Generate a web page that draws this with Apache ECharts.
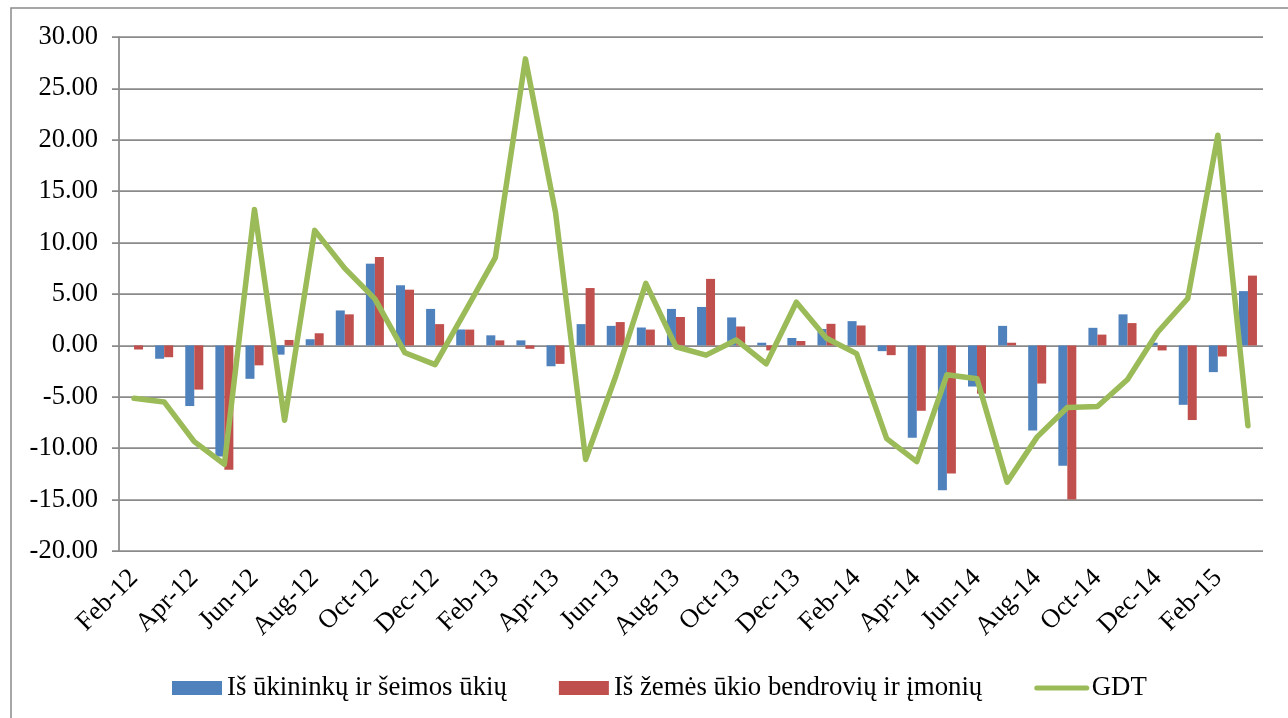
<!DOCTYPE html>
<html>
<head>
<meta charset="utf-8">
<script src="https://cdn.jsdelivr.net/npm/echarts@6/dist/echarts.min.js"></script>
<style>
html,body{margin:0;padding:0;background:#fff;}
#chart{width:1288px;height:718px;}
</style>
</head>
<body>
<div id="chart"></div>
<script>
const categories = ['Feb-12','Mar-12','Apr-12','May-12','Jun-12','Jul-12','Aug-12','Sep-12','Oct-12','Nov-12','Dec-12',
  'Jan-13','Feb-13','Mar-13','Apr-13','May-13','Jun-13','Jul-13','Aug-13','Sep-13','Oct-13','Nov-13','Dec-13',
  'Jan-14','Feb-14','Mar-14','Apr-14','May-14','Jun-14','Jul-14','Aug-14','Sep-14','Oct-14','Nov-14','Dec-14',
  'Jan-15','Feb-15','Mar-15'];
const farmers = [0, -1.3, -5.9, -10.8, -3.25, -0.9, 0.6, 3.4, 7.95, 5.85, 3.55,
  1.55, 0.98, 0.49, -2.03, 2.07, 1.9, 1.74, 3.55, 3.74, 2.72, 0.26, 0.72,
  1.6, 2.36, -0.56, -8.99, -14.08, -4.0, 1.9, -8.27, -11.7, 1.71, 3.02, 0.26,
  -5.78, -2.6, 5.28];
const companies = [-0.4, -1.15, -4.3, -12.1, -1.94, 0.53, 1.18, 3.02, 8.6, 5.42, 2.07,
  1.54, 0.49, -0.33, -1.8, 5.58, 2.27, 1.54, 2.76, 6.47, 1.84, -0.49, 0.43,
  2.1, 1.94, -0.95, -6.36, -12.47, -4.69, 0.26, -3.71, -15.0, 1.05, 2.17, -0.49,
  -7.26, -1.08, 6.79];
const gdt = [-5.15, -5.5, -9.36, -11.56, 13.23, -7.29, 11.19, 7.49, 4.53, -0.72, -1.87,
  3.3, 8.54, 27.87, 12.93, -11.1, -3.0, 6.04, -0.13, -0.95, 0.53, -1.8, 4.2,
  0.7, -0.8, -9.07, -11.3, -2.86, -3.25, -13.3, -8.9, -6.04, -5.94, -3.32, 1.28,
  4.56, 20.45, -7.82];
const seriesNames = ['Iš ūkininkų ir šeimos ūkių', 'Iš žemės ūkio bendrovių ir įmonių', 'GDT'];

const FONT = '"Liberation Serif", "Times New Roman", serif';
const chart = echarts.init(document.getElementById('chart'), null, {renderer: 'canvas'});
chart.setOption({
  animation: false,
  backgroundColor: '#ffffff',
  graphic: [{
    type: 'rect', silent: true, z: -1,
    shape: {x: 11, y: 8, width: 1400, height: 800},
    style: {fill: 'none', stroke: '#8a8a8a', lineWidth: 1.5}
  }],
  grid: {left: 119, right: 25, top: 37, bottom: 167, containLabel: false},
  legend: {
    left: 172, top: 674, padding: 0,
    itemWidth: 50, itemHeight: 14, itemGap: 52,
    textStyle: {fontFamily: FONT, fontSize: 26.8, color: '#000', lineHeight: 28, padding: [0, 0, 0, 0]},
    data: [
      {name: seriesNames[0], icon: 'rect'},
      {name: seriesNames[1], icon: 'rect'},
      {name: seriesNames[2], itemStyle: {opacity: 0},
        lineStyle: {width: 5, cap: 'round', color: '#9BBB59'}}
    ]
  },
  xAxis: {
    type: 'category', data: categories, boundaryGap: true,
    axisLine: {show: false}, axisTick: {show: false},
    splitLine: {show: false},
    axisLabel: {interval: 1, rotate: 45, margin: 23, fontFamily: FONT, fontSize: 26.5, color: '#000'}
  },
  yAxis: {
    type: 'value', min: -20, max: 30, interval: 5,
    axisLine: {show: true, lineStyle: {color: '#8a8a8a', width: 1.75}},
    axisTick: {show: true, length: 7, lineStyle: {color: '#8a8a8a', width: 1.75}},
    splitLine: {show: true, lineStyle: {color: '#8a8a8a', width: 1.75}},
    axisLabel: {margin: 21, fontFamily: FONT, fontSize: 26.5, color: '#000',
      formatter: v => v.toFixed(2)}
  },
  series: [
    {name: seriesNames[0], type: 'bar', data: farmers, barWidth: 9, barGap: '0%',
      itemStyle: {color: '#4F81BD'}},
    {name: seriesNames[1], type: 'bar', data: companies, barWidth: 9, barGap: '0%',
      itemStyle: {color: '#C0504D'}},
    {name: seriesNames[2], type: 'line', data: gdt, symbol: 'none', showSymbol: false,
      lineStyle: {color: '#9BBB59', width: 5.5, cap: 'round', join: 'round'},
      itemStyle: {color: '#9BBB59'}, z: 5}
  ]
});
</script>
</body>
</html>
